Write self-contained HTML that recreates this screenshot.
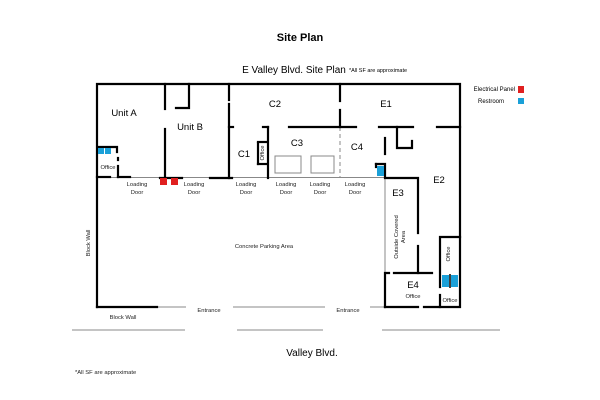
<!DOCTYPE html>
<html><head><meta charset="utf-8"><style>
html,body{margin:0;padding:0;background:#fff;}
svg{display:block;font-family:"Liberation Sans",sans-serif;}
</style></head><body>
<svg width="600" height="400" viewBox="0 0 600 400" xmlns="http://www.w3.org/2000/svg">
<rect width="600" height="400" fill="#fff"/>
<text x="300" y="41" font-size="11" font-weight="bold" text-anchor="middle">Site Plan</text>
<text x="294" y="73" font-size="10" text-anchor="middle">E Valley Blvd. Site Plan</text>
<text x="349" y="72" font-size="5.5">*All SF are approximate</text>
<text x="515" y="91" font-size="6" text-anchor="end">Electrical Panel</text>
<rect x="518" y="86" width="6" height="7" fill="#e02020"/>
<text x="504" y="103" font-size="6" text-anchor="end">Restroom</text>
<rect x="518" y="98" width="6" height="6" fill="#1aa0d8"/>

<g stroke="#888" stroke-width="1" fill="none">
<line x1="97" y1="177.5" x2="385" y2="177.5"/>
<line x1="385" y1="178" x2="385" y2="273"/>
<line x1="157" y1="307" x2="186" y2="307"/>
<line x1="233" y1="307" x2="325" y2="307"/>
<line x1="370" y1="307" x2="385" y2="307"/>
<line x1="72" y1="330" x2="185" y2="330"/>
<line x1="237" y1="330" x2="323" y2="330"/>
<line x1="382" y1="330" x2="500" y2="330"/>
<line x1="340" y1="127" x2="340" y2="177" stroke-dasharray="4,3"/>
<rect x="275" y="156" width="26" height="17"/>
<rect x="311" y="156" width="23" height="17"/>
</g>

<g stroke="#000" stroke-width="2.2" fill="none" stroke-linecap="square">
<polyline points="97,307 97,84 460,84 460,307 440,307"/>
<line x1="97" y1="307" x2="157" y2="307"/>
<line x1="97" y1="177" x2="110" y2="177"/>
<line x1="118" y1="177" x2="130" y2="177"/>
<line x1="118" y1="166" x2="118" y2="177"/>
<polyline points="98,147 117,147 117,152"/>
<line x1="118" y1="158" x2="118" y2="160"/>
<line x1="165" y1="84" x2="165" y2="109"/>
<line x1="165" y1="129" x2="165" y2="177"/>
<polyline points="176,108 189,108 189,84"/>
<line x1="160" y1="178" x2="182" y2="178"/>
<line x1="229" y1="84" x2="229" y2="100"/>
<line x1="229" y1="104" x2="229" y2="178"/>
<line x1="229" y1="127" x2="233" y2="127"/>
<line x1="210" y1="178" x2="232" y2="178"/>
<line x1="263" y1="127" x2="268" y2="127"/>
<line x1="268" y1="127" x2="268" y2="178"/>
<polyline points="258,143 258,164" />
<line x1="258" y1="142" x2="267" y2="142"/>
<line x1="258" y1="164" x2="267" y2="164"/>
<line x1="289" y1="127" x2="356" y2="127"/>
<line x1="340" y1="84" x2="340" y2="101"/>
<line x1="340" y1="110" x2="340" y2="127"/>
<line x1="379" y1="127" x2="413" y2="127"/>
<polyline points="397,127 397,148 412,148 412,141"/>
<line x1="385" y1="138" x2="385" y2="154"/>
<line x1="437" y1="127" x2="460" y2="127"/>
<polyline points="376,164 385,164 385,178 418,178 418,233"/>
<line x1="418" y1="246" x2="418" y2="273"/>
<line x1="376" y1="164" x2="376" y2="167"/>
<polyline points="385,307 385,273 389,273"/>
<line x1="394" y1="273" x2="432" y2="273"/>
<line x1="385" y1="307" x2="418" y2="307"/>
<line x1="424" y1="307" x2="438" y2="307"/>
<polyline points="440,307 440,295"/>
<polyline points="440,287 440,237 460,237"/>
</g>

<rect x="98" y="148" width="6" height="6" fill="#1aa0d8"/>
<rect x="105" y="148" width="6" height="6" fill="#1aa0d8"/>
<rect x="160" y="178" width="7" height="7" fill="#e02020"/>
<rect x="171" y="178" width="7" height="7" fill="#e02020"/>
<rect x="377" y="166" width="7" height="10" fill="#1aa0d8"/>
<rect x="442" y="275" width="7" height="12" fill="#1aa0d8"/>
<rect x="451" y="275" width="7" height="12" fill="#1aa0d8"/>
<line x1="450" y1="274" x2="450" y2="288" stroke="#000" stroke-width="1.5"/>

<g font-size="9.5" text-anchor="middle">
<text x="124" y="116">Unit A</text>
<text x="190" y="130">Unit B</text>
<text x="275" y="107">C2</text>
<text x="244" y="157">C1</text>
<text x="297" y="146">C3</text>
<text x="357" y="150">C4</text>
<text x="386" y="107">E1</text>
<text x="439" y="183">E2</text>
<text x="398" y="196">E3</text>
<text x="413" y="288">E4</text>
<text x="312" y="356" font-size="10">Valley Blvd.</text>
</g>
<g font-size="5.8" text-anchor="middle" fill="#222">
<text x="108" y="169">Office</text>
<text x="137" y="186">Loading</text><text x="137" y="194">Door</text>
<text x="194" y="186">Loading</text><text x="194" y="194">Door</text>
<text x="246" y="186">Loading</text><text x="246" y="194">Door</text>
<text x="286" y="186">Loading</text><text x="286" y="194">Door</text>
<text x="320" y="186">Loading</text><text x="320" y="194">Door</text>
<text x="355" y="186">Loading</text><text x="355" y="194">Door</text>
<text x="413" y="298">Office</text>
<text x="450" y="302">Office</text>
<text x="264" y="248">Concrete Parking Area</text>
<text x="123" y="319">Block Wall</text>
<text x="209" y="312">Entrance</text>
<text x="348" y="312">Entrance</text>
<text x="75" y="374" text-anchor="start">*All SF are approximate</text>
<text transform="translate(264,153) rotate(-90)">Office</text>
<text transform="translate(450,254) rotate(-90)">Office</text>
<text transform="translate(90,243) rotate(-90)">Block Wall</text>
<text transform="translate(398,237) rotate(-90)">Outside Covered</text>
<text transform="translate(405,237) rotate(-90)">Area</text>
</g>
</svg>
</body></html>
